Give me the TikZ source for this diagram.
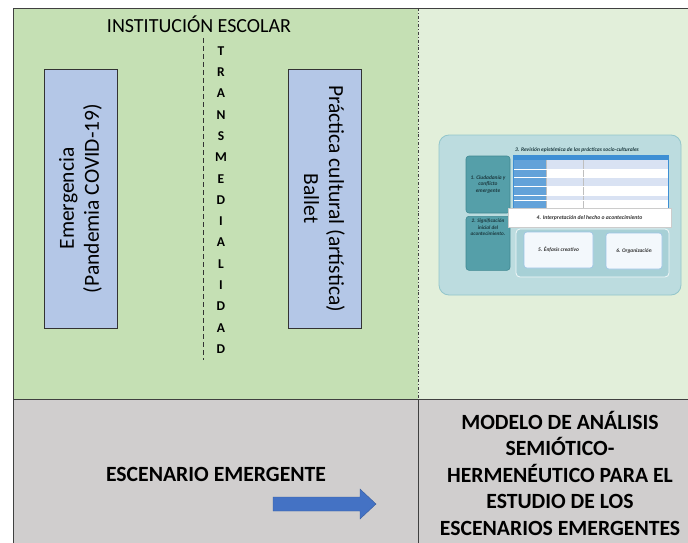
\documentclass[tikz,border=0pt]{standalone}
\usepackage{fontspec}
\setmainfont{Carlito}
\usetikzlibrary{positioning}

\definecolor{schoolgreen}{HTML}{C5E0B4}
\definecolor{modelgreen}{HTML}{E2EFDA}
\definecolor{scenegray}{HTML}{D0CECE}
\definecolor{stageblue}{HTML}{B4C7E7}
\definecolor{arrowblue}{HTML}{4472C4}
\definecolor{tealback}{HTML}{BCDCDF}
\definecolor{tealedge}{HTML}{93C6CB}
\definecolor{tealbox}{HTML}{559FA9}
\definecolor{tealdark}{HTML}{3F8892}
\definecolor{tealtext}{HTML}{1C3A40}
\definecolor{tealpanel}{HTML}{A7D0D6}
\definecolor{cardfill}{HTML}{F3F8FC}
\definecolor{cardline}{HTML}{9DC3E6}
\definecolor{tablehead}{HTML}{3E8FD4}
\definecolor{tablecol}{HTML}{63A2D9}
\definecolor{tablerow}{HTML}{D9E2F3}

\begin{document}
\begin{tikzpicture}[x=1pt,y=-1pt,
    frame/.style = {draw=black!75, line width=0.9pt},
    stage/.style = {
      draw=black!80,
      fill=stageblue,
      line width=0.9pt,
      minimum width=259pt,
      minimum height=73pt,
      inner sep=0pt,
      align=center,
      font=\fontsize{21.5}{25}\selectfont
    },
    caps/.style = {font=\bfseries\fontsize{21.7}{26.5}\selectfont, align=center},
    phase/.style = {
      draw=tealdark,
      fill=tealbox,
      rounded corners=3pt,
      line width=0.6pt,
      inner sep=0pt,
      align=center,
      text=tealtext,
      font=\bfseries\itshape\fontsize{5.4}{6.6}\selectfont
    },
    card/.style = {
      draw=cardline,
      fill=cardfill,
      rounded corners=3pt,
      line width=0.6pt,
      inner sep=0pt,
      text=black!80,
      font=\bfseries\itshape\fontsize{5.4}{6.6}\selectfont
    }
  ]
  \useasboundingbox (0,0) rectangle (688,543);

  \fill[schoolgreen] (13,8) rectangle (418,399);
  \fill[modelgreen] (418,8) rectangle (688,399);
  \fill[scenegray] (13,399) rectangle (688,543);

  \draw[frame] (13,543) -- (13,8) -- (688,8);
  \draw[frame] (13,399) -- (688,399);
  \draw[frame] (418,399) -- (418,543);
  \draw[frame, dash dot] (418,8) -- (418,399);

  % institucion escolar
  \node[font=\fontsize{20}{24}\selectfont] (school) at (199,24) {INSTITUCIÓN ESCOLAR};

  \draw[black!80, line width=0.9pt, dash pattern=on 5pt off 3pt] (203,38) -- (203,360);
  \node[font=\bfseries\fontsize{13.5}{21.3}\selectfont, align=center, inner sep=0pt] (transmedia) at (221,200)
    {T\\R\\A\\N\\S\\M\\E\\D\\I\\A\\L\\I\\D\\A\\D};

  \node[stage, rotate=90] (emergency) at (80.5,198.5) {Emergencia\\(Pandemia COVID-19)};
  \node[stage, rotate=-90] (ballet) at (324.5,198.5) {Práctica cultural (artística)\\Ballet};

  % modelo (miniatura)
  \node[draw=tealedge, fill=tealback, line width=0.8pt, rounded corners=10pt,
    minimum width=242pt, minimum height=160pt, inner sep=0pt] (model) at (560,215) {};
  \node[text=tealtext, font=\bfseries\itshape\fontsize{5.5}{6.6}\selectfont] (review) at (577,150)
    {3. Revisión epistémica de las prácticas socio-culturales};

  \fill[white] (513,155) rectangle (668,208);
  \fill[tablerow] (546,160) rectangle (668,169);
  \fill[tablerow] (546,177) rectangle (668,186);
  \fill[tablerow] (546,195) rectangle (668,200);
  \fill[tablecol] (513,160) rectangle (546,208);
  \fill[tablehead] (513,155) rectangle (668,160);
  \draw[black!25, line width=0.3pt] (546,160) -- (546,208) (583,160) -- (583,208);
  \draw[white, line width=0.3pt] (513,169) -- (668,169) (513,177) -- (668,177)
    (513,186) -- (668,186) (513,195) -- (668,195) (513,200) -- (668,200);
  \draw[tablehead, line width=0.5pt] (513,155) rectangle (668,208);

  \node[phase, minimum width=44pt, minimum height=57pt] (citizen) at (488,184.5)
    {1. Ciudadanía y\\conflicto\\emergente};
  \node[phase, minimum width=44pt, minimum height=54pt, anchor=north] (meaning) at (488,216) {};
  \node[text=tealtext, font=\bfseries\itshape\fontsize{5.2}{6.4}\selectfont, align=center,
    below=3pt of meaning.north, inner sep=0pt] (meaninglabel) {2. Significación\\inicial del\\acontecimiento.};

  \node[draw=black!20, fill=white, line width=0.5pt, minimum width=163pt, minimum height=19pt,
    inner sep=0pt, font=\bfseries\itshape\fontsize{5.7}{6.6}\selectfont, text=black!80] (reading) at (589.5,217.5)
    {4. Interpretación del hecho o acontecimiento};

  \node[draw=white!85!tealpanel, fill=tealpanel, line width=0.8pt, rounded corners=4pt,
    minimum width=153pt, minimum height=48pt, inner sep=0pt] (inner) at (592.5,253) {};
  \node[card, minimum width=69pt, minimum height=36pt] (emphasis) at (558.5,250) {5. Énfasis creativo};
  \node[card, minimum width=56pt, minimum height=36pt] (order) at (634,251) {6. Organización};

  % escenario
  \node[caps] (scene) at (216,474) {ESCENARIO EMERGENTE};
  \fill[arrowblue, draw=arrowblue!80!black, line width=0.4pt]
    (273,497) -- (360,497) -- (360,489) -- (376,504) -- (360,519) -- (360,511) -- (273,511) -- cycle;
  \node[caps] (modeltitle) at (560,473)
    {MODELO DE ANÁLISIS\\SEMIÓTICO-\\HERMENÉUTICO PARA EL\\ESTUDIO DE LOS\\ESCENARIOS EMERGENTES};
\end{tikzpicture}
\end{document}
